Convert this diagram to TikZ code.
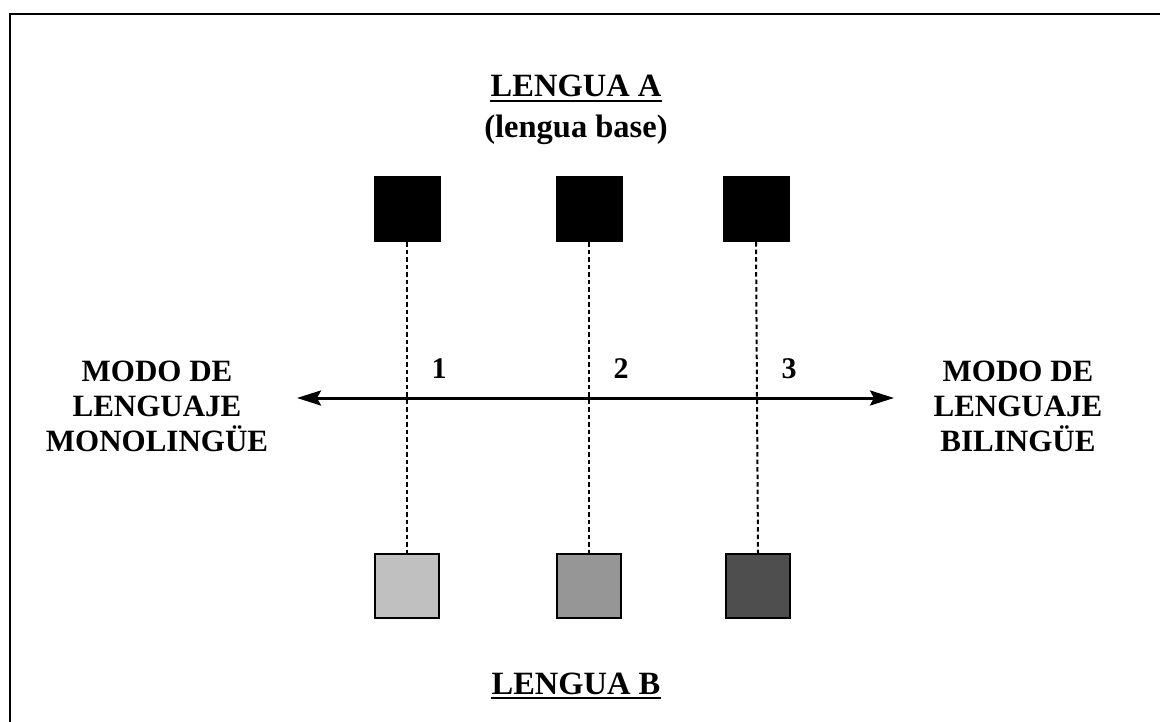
\documentclass[tikz,border=0pt]{standalone}
\usepackage{fontspec}
\setmainfont{Liberation Serif}
\usetikzlibrary{arrows.meta}
\begin{document}
\begin{tikzpicture}[x=1pt,y=-1pt,
  >={Stealth[length=24pt,width=15pt,inset=4pt]},
  topsq/.style={fill=black,draw=none,minimum width=67pt,minimum height=66pt,inner sep=0pt},
  botsq/.style={draw=black,line width=1.8pt,minimum width=64.5pt,minimum height=64.5pt,inner sep=0pt},
  vline/.style={line width=2pt,dash pattern=on 4.5pt off 3pt},
  head/.style={font=\bfseries\fontsize{32.5}{36}\selectfont,inner sep=0pt,anchor=base},
  side/.style={font=\bfseries\fontsize{31}{35}\selectfont,inner sep=0pt,align=center,anchor=base},
  num/.style={font=\bfseries\fontsize{30}{34}\selectfont,inner sep=0pt,anchor=base},
  uline/.style={line width=2.4pt}]
\useasboundingbox (0,0) rectangle (1160,722);
\fill[white] (0,0) rectangle (1160,722);
% frame (cropped)
\draw[line width=2.8pt] (10,725) -- (10,14) -- (1165,14);
% headings
\node[head] (la) at (576,97) {LENGUA A};
\draw[uline] ([yshift=-3.8pt]la.base west) -- ([yshift=-3.8pt]la.base east);
\node[head] (lb) at (576,138) {(lengua base)};
\node[head] (lB) at (576,694) {LENGUA B};
\draw[uline] ([yshift=-3.8pt]lB.base west) -- ([yshift=-3.8pt]lB.base east);
% squares
\node[topsq] (a1) at (407,209) {};
\node[topsq] (a2) at (589,209) {};
\node[topsq] (a3) at (756,209) {};
\node[botsq,fill={rgb,255:red,192;green,192;blue,192}] (b1) at (407,586) {};
\node[botsq,fill={rgb,255:red,150;green,150;blue,150}] (b2) at (589,586) {};
\node[botsq,fill={rgb,255:red,78;green,78;blue,78}] (b3) at (758,586) {};
\draw[vline] (a1.south) -- (b1.north);
\draw[vline] (a2.south) -- (b2.north);
\draw[vline] (a3.south) -- (b3.north);
% arrow
\coordinate (L) at (297,398);
\coordinate (R) at (894,398);
\draw[line width=3pt,<->] (L) -- (R);
% numbers
\node[num] (n1) at (439,378) {1};
\node[num] (n2) at (621,378) {2};
\node[num] (n3) at (789,378) {3};
% side labels
\node[side] (ml) at (157,451) {MODO DE\\LENGUAJE\\MONOLINGÜE};
\node[side] (mr) at (1018,451) {MODO DE\\LENGUAJE\\BILINGÜE};
\end{tikzpicture}
\end{document}
